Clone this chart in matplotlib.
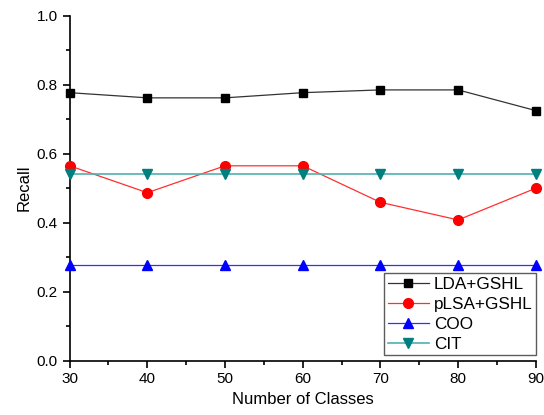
import matplotlib
matplotlib.use("Agg")
import matplotlib.pyplot as plt
from matplotlib.ticker import MultipleLocator

plt.rcParams['font.family'] = ['Liberation Sans', 'DejaVu Sans']

classes = [30, 40, 50, 60, 70, 80, 90]
lda_gshl = [0.777, 0.762, 0.762, 0.777, 0.785, 0.785, 0.725]
plsa_gshl = [0.565, 0.487, 0.565, 0.565, 0.459, 0.408, 0.500]
coo = [0.277, 0.277, 0.277, 0.277, 0.277, 0.277, 0.277]
cit = [0.540, 0.540, 0.540, 0.540, 0.540, 0.540, 0.540]

fig = plt.figure(figsize=(5.44, 4.15), dpi=100)
ax = fig.add_axes([0.128, 0.131, 0.857, 0.831])

ax.plot(classes, lda_gshl, color='#333333', lw=0.9, marker='s', ms=6,
        mfc='black', mec='black', label='LDA+GSHL', clip_on=False, zorder=3)
ax.plot(classes, plsa_gshl, color='#ff3030', lw=0.9, marker='o', ms=7,
        mfc='red', mec='red', label='pLSA+GSHL', clip_on=False, zorder=3)
ax.plot(classes, coo, color='#3030ff', lw=0.9, marker='^', ms=7,
        mfc='blue', mec='blue', label='COO', clip_on=False, zorder=3)
ax.plot(classes, cit, color='#50b0b0', lw=1.2, marker='v', ms=7,
        mfc='#007f7f', mec='#007f7f', label='CIT', clip_on=False, zorder=3)

ax.set_xlim(30, 90)
ax.set_ylim(0.0, 1.0)
ax.xaxis.set_major_locator(MultipleLocator(10))
ax.xaxis.set_minor_locator(MultipleLocator(5))
ax.yaxis.set_major_locator(MultipleLocator(0.2))
ax.yaxis.set_minor_locator(MultipleLocator(0.1))
ax.yaxis.set_major_formatter(matplotlib.ticker.FormatStrFormatter('%.1f'))
ax.spines['top'].set_visible(False)
ax.spines['right'].set_visible(False)
ax.spines['left'].set_linewidth(1.2)
ax.spines['bottom'].set_linewidth(1.2)
ax.tick_params(which='major', direction='out', length=5, width=1.2, labelsize=11)
ax.tick_params(which='minor', direction='out', length=3, width=1.2)
ax.set_xlabel('Number of Classes', fontsize=12)
ax.set_ylabel('Recall', fontsize=12)

leg = ax.legend(loc='lower right', bbox_to_anchor=(1.0, 0.015), fontsize=12.3,
                frameon=True, fancybox=False, edgecolor='#333333', borderaxespad=0,
                handlelength=2.4, borderpad=0.2, labelspacing=0.3, handletextpad=0.3)
leg.get_frame().set_linewidth(1.0)

fig.savefig('out.png', dpi=100)
